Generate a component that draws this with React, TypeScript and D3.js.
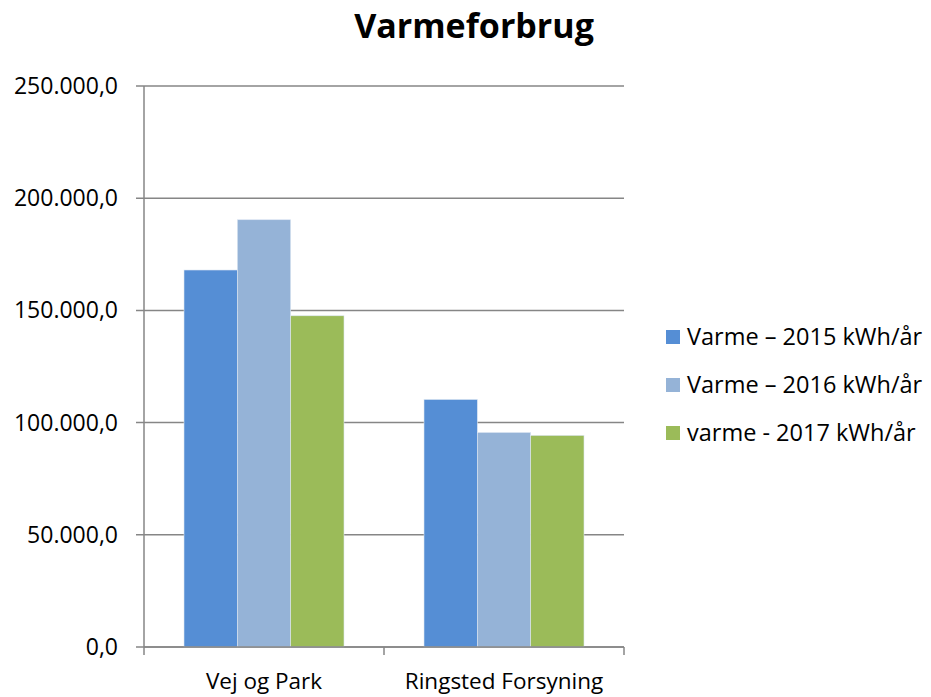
import React from "react";
import * as d3 from "d3";

const categories = ["Vej og Park", "Ringsted Forsyning"];
const seriesNames = ["Varme – 2015 kWh/år", "Varme – 2016 kWh/år", "varme - 2017 kWh/år"];
const values2015 = [168000, 110300];
const values2016 = [190400, 95600];
const values2017 = [147600, 94300];
const yTicks = [0, 50000, 100000, 150000, 200000, 250000];
const colors = ["#558ED5", "#95B3D7", "#9BBB59"];

const W = 931, H = 697;
const left = 144, right = 624, top = 86, bottom = 647;
const font = "'Open Sans', 'Noto Sans', sans-serif";

const fmt = (v: number) => {
  const s = d3.format(",.1f")(v);
  return s.replace(/,/g, "#").replace(".", ",").replace(/#/g, ".");
};

export default function App() {
  const series = [values2015, values2016, values2017];
  const x0 = d3.scaleBand<string>().domain(categories).range([left, right]).paddingInner(0).paddingOuter(0);
  const bw = x0.bandwidth();
  const groupW = bw * 3 / 4.5;
  const x1 = d3.scaleBand<number>().domain([0, 1, 2]).range([0, groupW]).padding(0);
  const y = d3.scaleLinear().domain([0, 250000]).range([bottom, top]);

  return (
    <svg width={W} height={H} style={{ position: "absolute", left: 0, top: 0, background: "#fff" }}>
      <rect x={0} y={0} width={W} height={H} fill="#fff" />
      <text x={474} y={38} textAnchor="middle" fontFamily={font} fontWeight="bold" fontSize={34} fill="#000">Varmeforbrug</text>
      {yTicks.map((t) => (
        <g key={t}>
          <line x1={136} x2={right} y1={y(t)} y2={y(t)} stroke="#868686" strokeWidth={1.5} />
          <text x={118} y={y(t)} dy="0.35em" textAnchor="end" fontFamily={font} fontSize={23} fill="#000">{fmt(t)}</text>
        </g>
      ))}
      {categories.map((c, ci) => (
        <g key={c}>
          {series.map((s, si) => {
            const bx = (x0(c) as number) + (bw - groupW) / 2 + (x1(si) as number);
            return (
              <rect key={si} x={bx} y={y(s[ci])} width={x1.bandwidth()} height={bottom - y(s[ci])}
                fill={colors[si]} stroke="#DDE6F2" strokeWidth={0.6} />
            );
          })}
          <text x={(x0(c) as number) + bw / 2} y={689} textAnchor="middle" fontFamily={font} fontSize={22.5} fill="#000">{c}</text>
        </g>
      ))}
      <line x1={left} x2={left} y1={top} y2={bottom} stroke="#868686" strokeWidth={1.5} />
      <line x1={left} x2={right} y1={bottom} y2={bottom} stroke="#868686" strokeWidth={1.5} />
      {[left, left + bw, right].map((tx) => (
        <line key={tx} x1={tx} x2={tx} y1={bottom} y2={655} stroke="#868686" strokeWidth={1.5} />
      ))}
      {seriesNames.map((n, i) => (
        <g key={n}>
          <rect x={666} y={330 + i * 48} width={14} height={14} fill={colors[i]} />
          <text x={687} y={337 + i * 48} dy="0.35em" fontFamily={font} fontSize={23.5} fill="#000">{n}</text>
        </g>
      ))}
    </svg>
  );
}
